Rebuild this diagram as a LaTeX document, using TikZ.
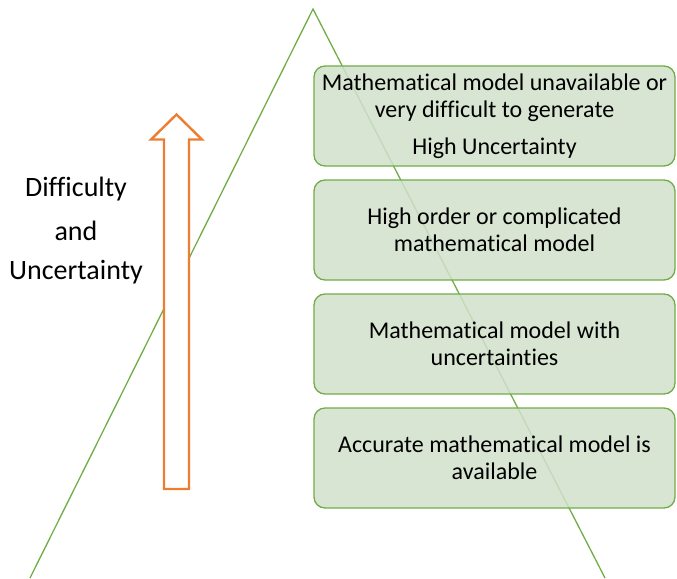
\documentclass[tikz,border=0pt]{standalone}
\usepackage{fontspec}
\setmainfont{Carlito}[Ligatures={NoCommon}]
\definecolor{tri}{RGB}{112,173,71}
\definecolor{boxfill}{RGB}{210,224,203}
\definecolor{arr}{RGB}{237,125,49}
\begin{document}
\begin{tikzpicture}[x=1pt,y=-1pt,
  level/.style={draw=tri, line width=1.3pt, fill=boxfill, fill opacity=0.85, text opacity=1,
    rounded corners=11pt, minimum width=361pt, minimum height=100pt, align=center,
    font=\fontsize{24}{27}\selectfont, inner sep=0pt},
  lbl/.style={font=\fontsize{28}{30}\selectfont, inner sep=0pt}]
\useasboundingbox (0,0) rectangle (677,578);
\coordinate (apex) at (313,9);
\coordinate (bl) at (30,578);
\coordinate (br) at (605,578);
\draw[tri, line width=1.3pt] (bl) -- (apex) -- (br);
\node[level] (b1) at (494.5,116) {Mathematical model unavailable or\\very difficult to generate\\[10pt]High Uncertainty};
\node[level] (b2) at (494.5,230) {High order or complicated\\mathematical model};
\node[level] (b3) at (494.5,344) {Mathematical model with\\uncertainties};
\node[level] (b4) at (494.5,458) {Accurate mathematical model is\\available};
\draw[arr, line width=2.4pt, fill=white, line join=miter]
  (164,489) -- (164,139.5) -- (151,139.5) -- (176.5,114.5) -- (202,139.5) -- (189,139.5) -- (189,489) -- cycle;
\node[lbl] (t1) at (76,189) {Difficulty};
\node[lbl] (t2) at (76,231) {and};
\node[lbl] (t3) at (76,272) {Uncertainty};
\end{tikzpicture}
\end{document}
